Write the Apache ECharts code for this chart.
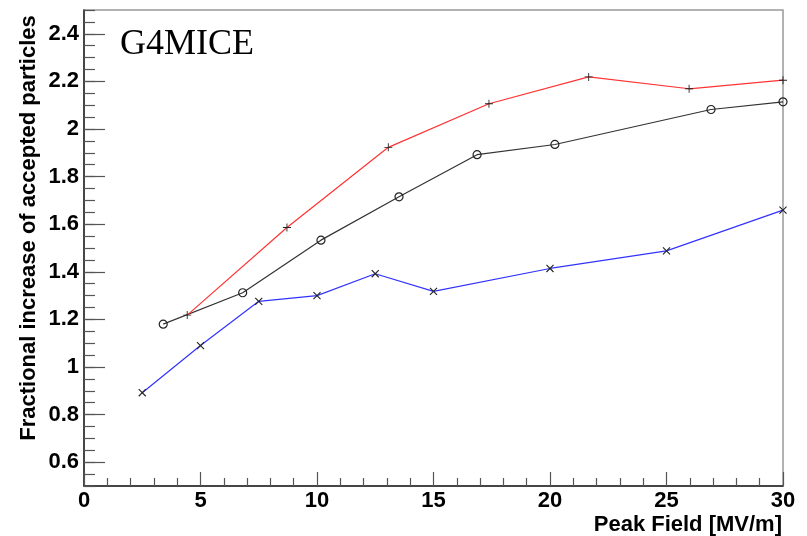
<!DOCTYPE html>
<html>
<head>
<meta charset="utf-8">
<script src="https://cdn.jsdelivr.net/npm/echarts@6/dist/echarts.min.js"></script>
<style>html,body{margin:0;padding:0;background:#fff}#c{width:807px;height:536px}</style>
</head>
<body>
<div id="c"></div>
<script>
// Red series (+ markers)
const redX = [4.43, 8.71, 13.06, 17.38, 21.66, 25.97, 30.0];
const redY = [1.218, 1.586, 1.923, 2.106, 2.219, 2.169, 2.205];
// Black series (open circles)
const blackX = [3.40, 6.81, 10.17, 13.52, 16.87, 20.21, 26.91, 30.0];
const blackY = [1.180, 1.312, 1.533, 1.715, 1.892, 1.935, 2.082, 2.114];
// Blue series (x markers)
const blueX = [2.5, 5, 7.5, 10, 12.5, 15, 20, 25, 30];
const blueY = [0.892, 1.090, 1.276, 1.300, 1.392, 1.318, 1.414, 1.488, 1.659];
// Tick labels
const yMajorTicks = [0.6, 0.8, 1.0, 1.2, 1.4, 1.6, 1.8, 2.0, 2.2, 2.4];
const xTitle = 'Peak Field [MV/m]';
const yTitle = 'Fractional increase of accepted particles';
const plotLabel = 'G4MICE';

function pairs(xs, ys) { return xs.map((x, i) => [x, ys[i]]); }

const plusPath = 'path://M-5,-0.55H5V0.55H-5Z M-0.55,-5H0.55V5H-0.55Z';

const chart = echarts.init(document.getElementById('c'), null, {renderer: 'canvas'});
const labelFont = {fontFamily: 'Liberation Sans', fontWeight: 'bold', fontSize: 22, color: '#000'};

chart.setOption({
  animation: false,
  backgroundColor: '#fff',
  grid: {left: 84, right: 24, top: 10, bottom: 50, show: true, borderColor: '#999', borderWidth: 1.5},
  xAxis: {
    type: 'value', min: 0, max: 30, interval: 5,
    axisLine: {show: true, onZero: false, lineStyle: {color: '#222', width: 1.5}},
    axisTick: {show: true, inside: true, length: 14, lineStyle: {color: '#555', width: 1.2}},
    minorTick: {show: true, splitNumber: 5, length: 8, lineStyle: {color: '#555', width: 1.2}},
    splitLine: {show: false},
    axisLabel: Object.assign({margin: 4}, labelFont)
  },
  yAxis: [{
    type: 'value', min: 0.5, max: 2.5,
    axisLine: {show: true, onZero: false, lineStyle: {color: '#222', width: 1.5}},
    axisTick: {show: true, inside: true, length: 21, customValues: yMajorTicks, lineStyle: {color: '#555', width: 1.2}},
    splitLine: {show: false},
    axisLabel: Object.assign({margin: 5, customValues: yMajorTicks, formatter: v => String(Math.round(v * 10) / 10)}, labelFont)
  }, {
    type: 'value', min: 0.5, max: 2.5, interval: 0.05, position: 'left',
    axisLine: {show: false},
    axisTick: {show: true, inside: true, length: 11, lineStyle: {color: '#555', width: 1.2}},
    splitLine: {show: false},
    axisLabel: {show: false}
  }],
  series: [{
    type: 'line', data: pairs(blackX, blackY), yAxisIndex: 0,
    lineStyle: {color: '#333', width: 1.2},
    symbol: 'circle', symbolSize: 8,
    itemStyle: {color: 'rgba(0,0,0,0)', borderColor: '#222', borderWidth: 1.2},
    z: 3
  }, {
    type: 'line', data: pairs(redX, redY), yAxisIndex: 0,
    lineStyle: {color: '#ff3333', width: 1.2},
    symbol: plusPath, symbolSize: 8,
    itemStyle: {color: '#222'},
    z: 4
  }, {
    type: 'line', data: pairs(blueX, blueY), yAxisIndex: 0,
    lineStyle: {color: '#3333ff', width: 1.2},
    symbol: plusPath, symbolSize: 10, symbolRotate: 45,
    itemStyle: {color: '#222'},
    z: 4
  }],
  graphic: [{
    type: 'text', left: 120, top: 27,
    style: {text: plotLabel, font: '36px "Liberation Serif"', fill: '#000'}
  }, {
    type: 'text', x: 782, y: 525,
    style: {text: xTitle, font: 'bold 22px "Liberation Sans"', fill: '#000', textAlign: 'right', textVerticalAlign: 'middle'}
  }, {
    type: 'text', x: 29, y: 228, rotation: Math.PI / 2,
    style: {text: yTitle, font: 'bold 22px "Liberation Sans"', fill: '#000', textAlign: 'center', textVerticalAlign: 'middle'}
  }]
});
</script>
</body>
</html>
